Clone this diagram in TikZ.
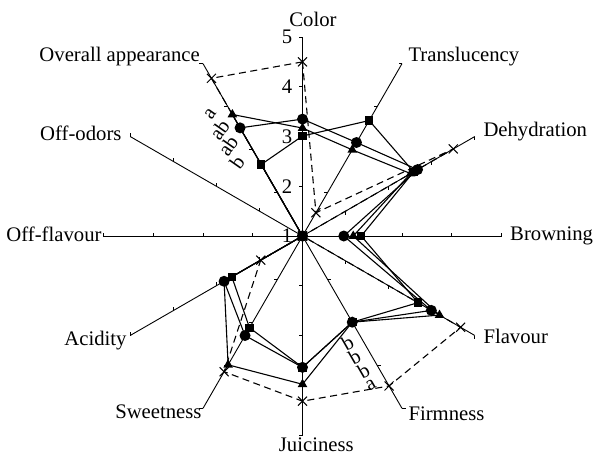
\documentclass[tikz,border=0pt]{standalone}
\usepackage{fontspec}
\setmainfont{Liberation Serif}
\usetikzlibrary{shapes.geometric,shapes.misc}
\begin{document}
\begin{tikzpicture}[x=1pt,y=1pt,
  axisline/.style={line width=0.9pt},
  series/.style={line width=1.1pt, line join=round},
  dseries/.style={line width=1.1pt, dash pattern=on 7pt off 4.5pt},
  mcirc/.style={circle, fill=black, inner sep=0pt, minimum size=11pt},
  mtri/.style={regular polygon, regular polygon sides=3, fill=black, inner sep=0pt, minimum size=11pt},
  msq/.style={rectangle, fill=black, inner sep=0pt, minimum size=8.5pt},
  mcross/.style={cross out, draw=black, line width=1pt, inner sep=0pt, minimum size=8pt},
  lbl/.style={font=\fontsize{20.7}{24}\selectfont, inner sep=0pt},
  sig/.style={font=\fontsize{20.5}{22}\selectfont, inner sep=0pt}
]
\useasboundingbox (-302.5,-223) rectangle (291.5,236);
\coordinate (O) at (0,0);
% axes with ticks
\foreach \a/\n/\tx/\ty in {90/cl/-1/0, 60/tr/-1/0, 30/de/0/-1, 0/br/0/1, -30/fl/0/-1, -60/fi/1/0, -90/ju/-1/0, -120/sw/-1/0, -150/ac/0/1, 180/of/0/1, 150/oo/0/1, 120/ov/-1/0} {
  \coordinate (ax\n) at (\a:199);
  \draw[axisline] (O) -- (ax\n);
  \foreach \k in {1,2,3,4} {
    \draw[axisline] (\a:{\k*49.75}) -- ++(3.5*\tx,3.5*\ty);
  }
}
% data points
\foreach \v [count=\i] in {3.35,3.17,3.67,1.83,3.99,3.0,3.64,3.31,2.82,1,1,3.51} {
  \pgfmathsetmacro\ang{90-30*(\i-1)}
  \coordinate (C\i) at (\ang:{(\v-1)*49.75});
}
\foreach \v [count=\i] in {3.17,3.0,3.51,2.02,4.18,3.0,3.98,3.99,2.82,1,1,3.82} {
  \pgfmathsetmacro\ang{90-30*(\i-1)}
  \coordinate (T\i) at (\ang:{(\v-1)*49.75});
}
\foreach \v [count=\i] in {3.01,3.68,3.58,2.18,3.68,3.0,3.64,3.13,2.64,1,1,2.66} {
  \pgfmathsetmacro\ang{90-30*(\i-1)}
  \coordinate (S\i) at (\ang:{(\v-1)*49.75});
}
\foreach \v [count=\i] in {4.5,1.54,4.5,1,4.67,4.48,4.32,4.15,1.97,1,1,4.66} {
  \pgfmathsetmacro\ang{90-30*(\i-1)}
  \coordinate (X\i) at (\ang:{(\v-1)*49.75});
}
% series lines
\draw[dseries] (X1) -- (X2) -- (X3) -- (X4) -- (X5) -- (X6) -- (X7) -- (X8) -- (X9) -- (X10) -- (X11) -- (X12) -- cycle;
\draw[series] (S1) -- (S2) -- (S3) -- (S4) -- (S5) -- (S6) -- (S7) -- (S8) -- (S9) -- (S10) -- (S11) -- (S12) -- cycle;
\draw[series] (T1) -- (T2) -- (T3) -- (T4) -- (T5) -- (T6) -- (T7) -- (T8) -- (T9) -- (T10) -- (T11) -- (T12) -- cycle;
\draw[series] (C1) -- (C2) -- (C3) -- (C4) -- (C5) -- (C6) -- (C7) -- (C8) -- (C9) -- (C10) -- (C11) -- (C12) -- cycle;
% markers
\foreach \i in {1,...,12} {
  \node[mcross] (mX\i) at (X\i) {};
  \node[msq] (mS\i) at (S\i) {};
  \node[mtri] (mT\i) at (T\i) {};
  \node[mcirc] (mC\i) at (C\i) {};
}
% scale numbers
\foreach \k in {1,...,5} {
  \node[lbl, anchor=east] (n\k) at (-10,{(\k-1)*49.75}) {\k};
}
% axis labels
\node[lbl, anchor=base] (lcol) at (10.5,210) {Color};
\node[lbl, anchor=base west] (ltra) at (105.8,174.3) {Translucency};
\node[lbl, anchor=base west] (ldeh) at (180.8,99.3) {Dehydration};
\node[lbl, anchor=base west] (lbro) at (207.5,-4) {Browning};
\node[lbl, anchor=base west] (lfla) at (180.8,-107.3) {Flavour};
\node[lbl, anchor=base west] (lfir) at (105.8,-184) {Firmness};
\node[lbl, anchor=base] (ljui) at (13.8,-215.7) {Juiciness};
\node[lbl, anchor=base east] (lswe) at (-100.8,-182.3) {Sweetness};
\node[lbl, anchor=base east] (laci) at (-175.8,-109) {Acidity};
\node[lbl, anchor=base east] (loff) at (-200.8,-5) {Off-flavour};
\node[lbl, anchor=base east] (lodo) at (-180.8,96) {Off-odors};
\node[lbl, anchor=base east] (lova) at (-102.5,174.3) {Overall appearance};
% significance letters
\node[sig, rotate=55] (sa1) at (-92,122) {a};
\node[sig, rotate=55] (sa2) at (-83,106) {ab};
\node[sig, rotate=55] (sa3) at (-74.5,90) {ab};
\node[sig, rotate=55] (sa4) at (-65.5,74) {b};
\node[sig, rotate=30] (sf1) at (45,-107.3) {b};
\node[sig, rotate=30] (sf2) at (52,-121) {b};
\node[sig, rotate=30] (sf3) at (61,-135) {b};
\node[sig, rotate=30] (sf4) at (68.5,-149) {a};
\end{tikzpicture}
\end{document}
